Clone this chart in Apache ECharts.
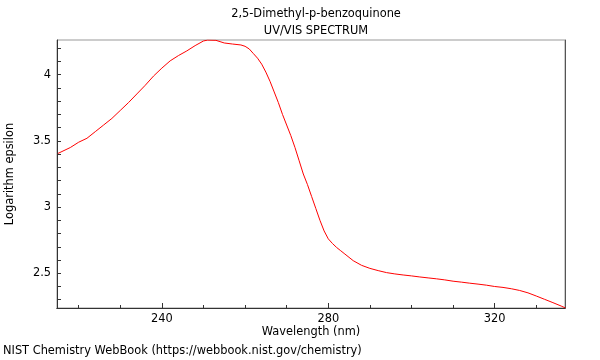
<!DOCTYPE html>
<html><head><meta charset="utf-8">
<script src="https://cdn.jsdelivr.net/npm/echarts@6/dist/echarts.min.js"></script>
<style>html,body{margin:0;padding:0;background:#fff}#c{width:600px;height:360px}</style>
</head><body><div id="c"></div>
<script>
const wavelengths = [215,216,218,220,222,224,226,228,230,232,234,236,238,240,242,244,246,248,250,251,253,255,257,259,260,261,262,263,264,265,266,267,268,269,270,271,272,273,274,275,276,277,278,279,280,281,282,283,284,286,288,290,292,294,296,298,300,302,304,306,308,310,312,314,316,318,320,322,324,326,328,330,332,334,336,337];
const logEpsilon = [3.405,3.42,3.45,3.49,3.52,3.57,3.62,3.67,3.73,3.79,3.855,3.92,3.99,4.05,4.105,4.145,4.18,4.22,4.255,4.262,4.26,4.24,4.232,4.225,4.215,4.195,4.16,4.125,4.08,4.02,3.95,3.87,3.79,3.70,3.62,3.54,3.45,3.35,3.25,3.17,3.08,2.99,2.90,2.82,2.76,2.725,2.695,2.67,2.645,2.595,2.56,2.537,2.52,2.505,2.495,2.487,2.48,2.472,2.465,2.458,2.45,2.44,2.433,2.425,2.418,2.41,2.40,2.393,2.383,2.37,2.352,2.328,2.303,2.278,2.252,2.238];
const xMajorTicks = [240,280,320];
const xMinorTicks = [220,230,250,260,270,290,300,310,330];
const yMajorTicks = [2.5,3,3.5,4];
const yMinorTicks = [2.3,2.4,2.6,2.7,2.8,2.9,3.1,3.2,3.3,3.4,3.6,3.7,3.8,3.9,4.1,4.2];
const titleText = '2,5-Dimethyl-p-benzoquinone';
const subTitleText = 'UV/VIS SPECTRUM';
const xName = 'Wavelength (nm)';
const yName = 'Logarithm epsilon';
const footer = 'NIST Chemistry WebBook (https://webbook.nist.gov/chemistry)';

const FONT = 'DejaVu Sans';
const FS = 11.4;
const XMIN = 214.8, XMAX = 336.9, YMIN = 2.2375, YMAX = 4.2625;
const chart = echarts.init(document.getElementById('c'));
const axisCol = '#333';
function xAxisBase(ticks, len, labels, name) {
  return {
    type: 'value', min: XMIN, max: XMAX, position: 'bottom', gridIndex: 0,
    axisLine: {show: true, lineStyle: {color: axisCol, width: 1}},
    axisTick: {show: true, inside: true, length: len, customValues: ticks, lineStyle: {color: axisCol}},
    axisLabel: labels ? {show: true, customValues: labels, color: '#000', fontFamily: FONT, fontSize: FS, margin: 6} : {show: false},
    splitLine: {show: false},
    name: name || '', nameLocation: 'middle', nameGap: 19,
    nameTextStyle: {color: '#000', fontFamily: FONT, fontSize: FS}
  };
}
function yAxisBase(ticks, len, labels, name) {
  return {
    type: 'value', min: YMIN, max: YMAX, position: 'left', gridIndex: 0,
    axisLine: {show: true, lineStyle: {color: axisCol, width: 1}},
    axisTick: {show: true, inside: true, length: len, customValues: ticks, lineStyle: {color: axisCol}},
    axisLabel: labels ? {show: true, customValues: labels, color: '#000', fontFamily: FONT, fontSize: FS, margin: 6} : {show: false},
    splitLine: {show: false},
    name: name || '', nameLocation: 'middle', nameGap: 41,
    nameTextStyle: {color: '#000', fontFamily: FONT, fontSize: FS}
  };
}
chart.setOption({
  animation: false,
  backgroundColor: '#fff',
  title: {
    text: titleText + '\n' + subTitleText,
    left: 311, top: 1, textAlign: 'center',
    textStyle: {fontFamily: FONT, fontSize: FS, fontWeight: 'normal', color: '#000', lineHeight: 17}
  },
  grid: {left: 57, right: 35, top: 40, bottom: 52, outerBoundsMode: 'none', containLabel: false, show: true, borderColor: '#999', borderWidth: 1, backgroundColor: 'transparent'},
  xAxis: [xAxisBase(xMinorTicks, 3, null, xName), xAxisBase(xMajorTicks, 5, xMajorTicks, '')],
  yAxis: [yAxisBase(yMinorTicks.concat(yMajorTicks), 4, yMajorTicks, yName),
    {type: 'value', min: YMIN, max: YMAX, position: 'right', axisLine: {show: true, onZero: false, lineStyle: {color: '#555'}}, axisTick: {show: false}, axisLabel: {show: false}, splitLine: {show: false}}],
  graphic: [{type: 'text', left: 3, top: 346, style: {text: footer, fontFamily: FONT, fontSize: FS, fill: '#000'}}],
  series: [{
    type: 'line', xAxisIndex: 0, yAxisIndex: 0,
    data: wavelengths.map((w, i) => [w, logEpsilon[i]]),
    showSymbol: false, symbol: 'none', smooth: false,
    lineStyle: {color: '#ff0000', width: 1}
  }]
});
</script></body></html>
